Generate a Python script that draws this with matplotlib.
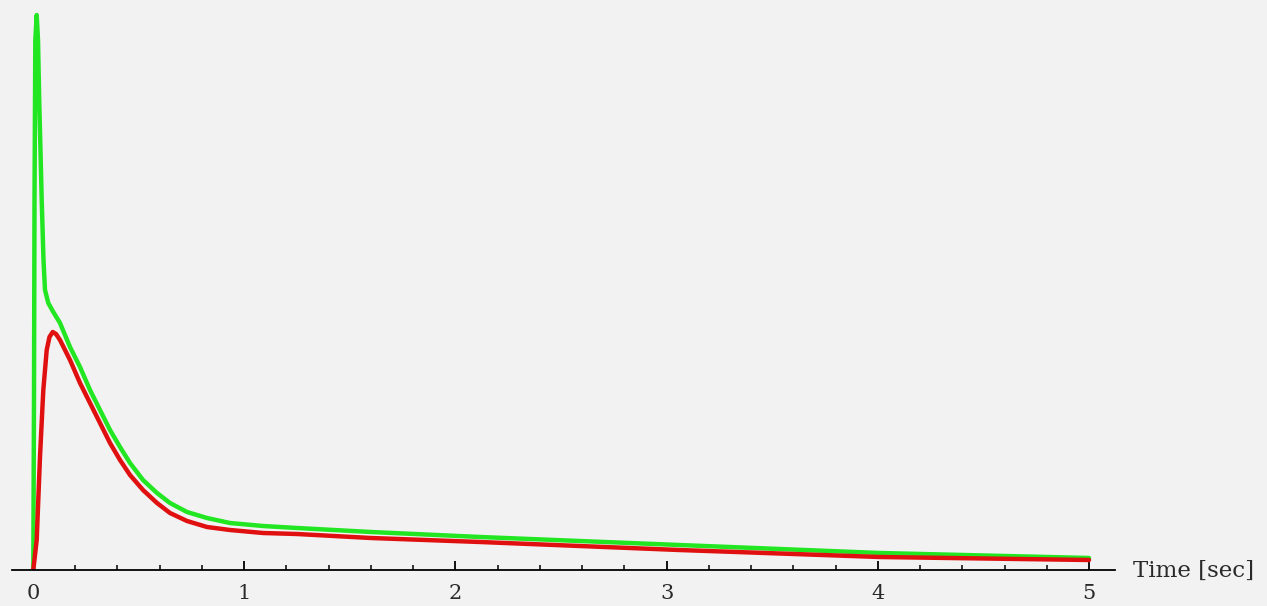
import matplotlib.pyplot as plt
from matplotlib.ticker import MultipleLocator

# values (time in sec, height above axis in arbitrary units)
green_t = [0.0, 0.0014, 0.0047, 0.0071, 0.011, 0.0175, 0.0237, 0.0294, 0.0412,
           0.0497, 0.0568, 0.0724, 0.0961, 0.1278, 0.1752, 0.2225, 0.2699,
           0.3172, 0.3646, 0.4119, 0.4593, 0.5208, 0.5871, 0.6487, 0.7292,
           0.8239, 0.9328, 1.089, 1.25, 1.6, 2.117, 3.06, 4.01, 5.0]
green_h = [0, 0, 170, 370, 530, 555, 530, 470, 370,
           310, 280, 267, 258, 247, 223, 203, 180,
           160, 140, 123, 107, 90, 77, 67, 58,
           52, 47, 44, 42, 38, 33, 25, 17, 12]

red_t = [0.0, 0.0014, 0.0175, 0.0331, 0.0488, 0.0649, 0.078, 0.0933, 0.109,
         0.1278, 0.1752, 0.2225, 0.2699, 0.3172, 0.3646, 0.4119, 0.4593,
         0.5208, 0.5871, 0.6487, 0.7292, 0.8239, 0.9328, 1.089, 1.25, 1.6,
         2.117, 3.06, 4.01, 5.0]
red_h = [0, 0, 30, 113, 180, 220, 233, 238, 236,
         230, 210, 187, 167, 147, 127, 110, 95,
         80, 67, 57, 49, 43, 40, 37, 36, 32,
         28, 20, 13, 10]

major_ticks = [0, 1, 2, 3, 4, 5]

bg = '#f2f2f2'
fig = plt.figure(figsize=(12.67, 6.06), dpi=100, facecolor=bg)
ax = fig.add_axes([12 / 1267, 36 / 606, (1115 - 12) / 1267, 560 / 606])
ax.set_facecolor(bg)

ax.plot(green_t, green_h, color='#22e622', lw=3.2, solid_joinstyle='round',
        solid_capstyle='round')
ax.plot(red_t, red_h, color='#e01010', lw=3.2, solid_joinstyle='round',
        solid_capstyle='round')

ax.set_xlim(-21 / 211.2, 5 + 26 / 211.2)
ax.set_ylim(0, 560)

for side in ['top', 'right', 'left']:
    ax.spines[side].set_visible(False)
ax.spines['bottom'].set_linewidth(1.3)
ax.set_yticks([])

ax.set_xticks(major_ticks)
ax.xaxis.set_minor_locator(MultipleLocator(0.2))
ax.tick_params(axis='x', which='major', direction='in', length=6.5, width=1.3,
               pad=10, labelsize=15)
ax.tick_params(axis='x', which='minor', direction='in', length=3.6, width=1.1)
for lab in ax.get_xticklabels():
    lab.set_family('DejaVu Serif')
    lab.set_color('#2a2a2a')

fig.text(1133 / 1267, (606 - 571) / 606, 'Time [sec]', ha='left', va='center',
         fontsize=16.5, family='DejaVu Serif', color='#2a2a2a')

fig.savefig('out.png', dpi=100, facecolor=bg)
